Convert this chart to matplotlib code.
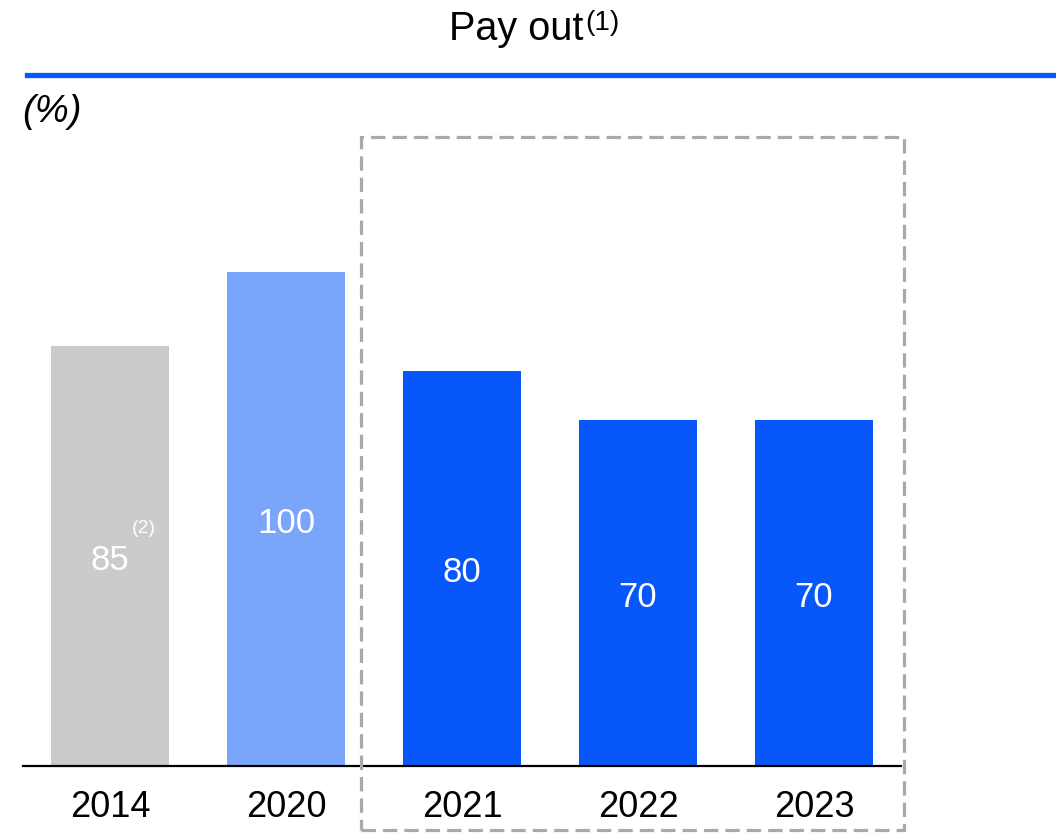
import numpy as np
import matplotlib
matplotlib.use('Agg')
import matplotlib.pyplot as plt
from matplotlib.patches import Rectangle

plt.rcParams['font.family'] = ['Liberation Sans', 'DejaVu Sans']

### DATA ###

years = ['2014', '2020', '2021', '2022', '2023']
payout = [85, 100, 80, 70, 70]
bar_colors = ['#CBCBCB', '#79A5FA', '#0857FA', '#0857FA', '#0857FA']
title = 'Pay out'
title_note = '(1)'
unit_label = '(%)'
note_2014 = '(2)'

### FIGURE ###

W, H = 1056, 834
fig = plt.figure(figsize=(W / 100, H / 100), dpi=100)

# axes placed so baseline sits at y=766px, bars 176px apart
ymax = 140.0
px_per_unit = 4.94
ax = fig.add_axes([23 / W, (H - 766) / H, 878 / W, ymax * px_per_unit / H])

x = np.arange(len(years))
bars = ax.bar(x, payout, width=0.67, color=bar_colors)

ax.set_xlim(-0.494, 4.494)
ax.set_ylim(0, ymax)
for s in ['top', 'right', 'left']:
    ax.spines[s].set_visible(False)
ax.spines['bottom'].set_linewidth(1.6)
ax.spines['bottom'].set_color('black')
ax.set_yticks([])
ax.set_xticks(x)
ax.set_xticklabels(years, fontsize=26)
ax.tick_params(axis='x', length=0, pad=17)

# values in the middle of each bar (nudged down a touch)
labels = []
for xi, v in zip(x, payout):
    t = ax.annotate(str(v), xy=(xi, v / 2), xytext=(0, -3), textcoords='offset points',
                    ha='center', va='center', color='white', fontsize=25)
    labels.append(t)

ax.annotate(note_2014, xy=(1, 1), xycoords=labels[0], xytext=(1.5, 5),
            textcoords='offset points', ha='left', va='bottom',
            color='white', fontsize=14)

# dashed box around forecast years
box = Rectangle((1.426, -13), 4.511 - 1.426, 127.3 + 13, fill=False,
                edgecolor='#A9A9A9', linewidth=2.3, linestyle=(0, (4.5, 2.2)),
                clip_on=False, zorder=3)
ax.add_patch(box)

### HEADER ###

tt = fig.text(449 / W, 1 - 40 / H, title, ha='left', va='baseline', fontsize=28.5)
ax.annotate(title_note, xy=(1, 1), xycoords=tt, xytext=(1, 0),
            textcoords='offset points', ha='left', va='top', fontsize=20)

fig.add_artist(plt.Line2D([27 / W, 1054 / W], [1 - 75 / H, 1 - 75 / H],
                          color='#0857FA', linewidth=3.8))

fig.text(22 / W, 1 - 112 / H, unit_label, ha='left', va='center',
         fontsize=27.5, style='italic')

fig.savefig('out.png', dpi=100)
